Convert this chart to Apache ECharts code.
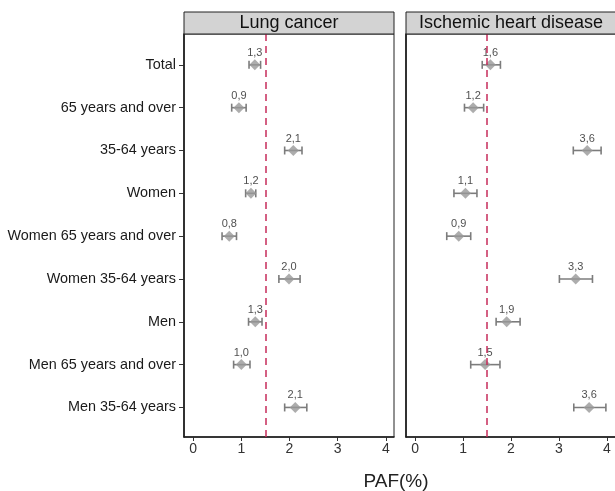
<!DOCTYPE html>
<html>
<head>
<meta charset="utf-8">
<script src="https://cdn.jsdelivr.net/npm/echarts@6/dist/echarts.min.js"></script>
<style>html,body{margin:0;padding:0;background:#fff}#c{width:615px;height:491px}</style>
</head>
<body>
<div id="c"></div>
<script>
var categories = ["Total","65 years and over","35-64 years","Women","Women 65 years and over","Women 35-64 years","Men","Men 65 years and over","Men 35-64 years"];
var panels = ["Lung cancer","Ischemic heart disease"];
var lungPAF   = [1.28, 0.95, 2.08, 1.20, 0.75, 1.99, 1.29, 1.00, 2.12];
var lungLow   = [1.16, 0.80, 1.90, 1.09, 0.60, 1.78, 1.15, 0.84, 1.90];
var lungHigh  = [1.40, 1.10, 2.26, 1.30, 0.90, 2.22, 1.43, 1.18, 2.36];
var lungLabels = ["1,3","0,9","2,1","1,2","0,8","2,0","1,3","1,0","2,1"];
var ihdPAF    = [1.57, 1.21, 3.59, 1.05, 0.91, 3.35, 1.91, 1.46, 3.63];
var ihdLow    = [1.40, 1.03, 3.30, 0.81, 0.66, 3.01, 1.69, 1.16, 3.31];
var ihdHigh   = [1.78, 1.43, 3.88, 1.29, 1.16, 3.70, 2.19, 1.77, 3.98];
var ihdLabels = ["1,6","1,2","3,6","1,1","0,9","3,3","1,9","1,5","3,6"];
var xTicks = [0, 1, 2, 3, 4];
var refLine = 1.5;

var FONT = 'Liberation Sans, Arial, sans-serif';
var chart = echarts.init(document.getElementById('c'), null, {renderer: 'canvas'});
var yIdx = categories.map(function (c, i) { return i + 1; });

function errSeries(k, low, high) {
  return {
    type: 'custom', xAxisIndex: k, yAxisIndex: k, silent: true, z: 2,
    data: low.map(function (l, i) { return [l, high[i], i + 1]; }),
    renderItem: function (params, api) {
      var a = api.coord([api.value(0), api.value(2)]);
      var b = api.coord([api.value(1), api.value(2)]);
      var h = 4;
      var st = {stroke: '#7c7c7c', lineWidth: 1.6};
      return {type: 'group', children: [
        {type: 'line', shape: {x1: a[0], y1: a[1], x2: b[0], y2: b[1]}, style: st},
        {type: 'line', shape: {x1: a[0], y1: a[1] - h, x2: a[0], y2: a[1] + h}, style: st},
        {type: 'line', shape: {x1: b[0], y1: b[1] - h, x2: b[0], y2: b[1] + h}, style: st}
      ]};
    }
  };
}
function pointSeries(k, vals, labels) {
  return {
    type: 'scatter', xAxisIndex: k, yAxisIndex: k, z: 3,
    symbol: 'diamond', symbolSize: 11,
    itemStyle: {color: '#999999'},
    data: vals.map(function (v, i) { return [v, i + 1]; }),
    label: {show: true, position: 'top', distance: 1, fontSize: 11, color: '#222',
      fontFamily: FONT,
      formatter: function (p) { return labels[p.dataIndex]; }},
    markLine: {silent: true, symbol: 'none', label: {show: false},
      lineStyle: {color: '#c62d5b', type: [7, 5], width: 1.5},
      data: [{xAxis: refLine}]}
  };
}

var grids = [
  {left: 184, top: 34, width: 210, height: 403},
  {left: 406, top: 34, width: 210, height: 403}
];
var xAxes = grids.map(function (g, k) {
  return {
    type: 'value', gridIndex: k, min: -0.19, max: 4.17,
    axisLine: {show: true, onZero: false, lineStyle: {color: '#111', width: 1.6}},
    axisTick: {show: true, length: 4, lineStyle: {color: '#333'}, customValues: xTicks},
    axisLabel: {fontSize: 14, color: '#333', margin: 5, customValues: xTicks, fontFamily: FONT},
    splitLine: {show: false}
  };
});
var yAxes = grids.map(function (g, k) {
  return {
    type: 'value', gridIndex: k, min: 0.28, max: 9.69, inverse: true,
    axisLine: {show: true, onZero: false, lineStyle: {color: '#111', width: 1.6}},
    axisTick: {show: k === 0, length: 5, lineStyle: {color: '#333'}, customValues: yIdx},
    axisLabel: {show: k === 0, fontSize: 14.4, color: '#1a1a1a', margin: 8, customValues: yIdx,
      fontFamily: FONT,
      formatter: function (v) { return categories[Math.round(v) - 1] || ''; }},
    splitLine: {show: false}
  };
});

var graphics = [];
grids.forEach(function (g, k) {
  graphics.push({type: 'rect', z: 10, silent: true,
    shape: {x: g.left, y: 12, width: g.width, height: 22},
    style: {fill: '#d3d3d3', stroke: '#222', lineWidth: 1}});
  graphics.push({type: 'text', x: g.left + g.width / 2, y: 23, z: 11, silent: true,
    style: {text: panels[k], fontSize: 18, fill: '#111', align: 'center', verticalAlign: 'middle',
      fontFamily: FONT}});
  graphics.push({type: 'rect', z: 1, silent: true,
    shape: {x: g.left, y: g.top, width: g.width, height: g.height},
    style: {fill: 'none', stroke: '#222', lineWidth: 1}});
});
graphics.push({type: 'text', x: 396, y: 482, silent: true,
  style: {text: 'PAF(%)', fontSize: 19, fill: '#222',
  align: 'center', verticalAlign: 'middle', fontFamily: FONT}});

chart.setOption({
  animation: false,
  backgroundColor: '#fff',
  grid: grids,
  xAxis: xAxes,
  yAxis: yAxes,
  graphic: graphics,
  series: [
    errSeries(0, lungLow, lungHigh), pointSeries(0, lungPAF, lungLabels),
    errSeries(1, ihdLow, ihdHigh), pointSeries(1, ihdPAF, ihdLabels)
  ]
});
</script>
</body>
</html>
